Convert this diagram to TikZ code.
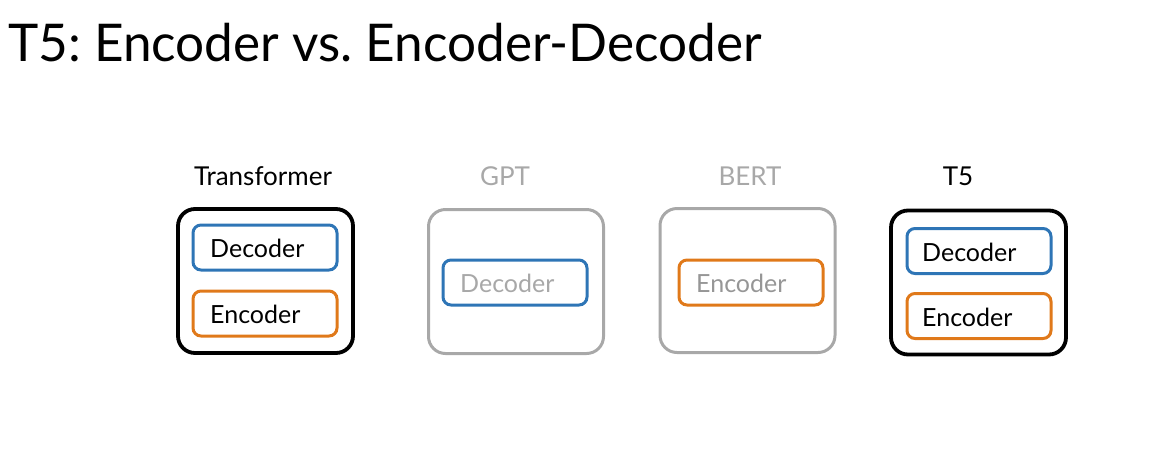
\documentclass[tikz,border=0pt]{standalone}
\usepackage{fontspec}
\setmainfont{Lato}
\frenchspacing
\begin{document}
\definecolor{encblue}{RGB}{46,117,182}
\definecolor{decorange}{RGB}{224,121,26}
\definecolor{dimgrey}{RGB}{168,168,168}
\definecolor{dimtext}{RGB}{150,150,150}
\begin{tikzpicture}[x=1pt,y=-1pt,
  outerbox/.style={draw, line width=3.8pt, rounded corners=17pt, minimum width=175pt, minimum height=144pt, inner sep=0pt},
  dimbox/.style={outerbox, draw=dimgrey, line width=3pt},
  partbox/.style={draw, line width=3pt, rounded corners=8pt, minimum width=144pt, minimum height=45pt, inner sep=0pt},
  parttext/.style={font=\fontsize{25}{30}\selectfont, anchor=base west, inner sep=0pt},
  modellabel/.style={font=\fontsize{26}{30}\selectfont, anchor=base, inner sep=0pt}]
\useasboundingbox (0,0) rectangle (1175,448);

% title
\node[font=\fontsize{52}{60}\selectfont, anchor=base west, inner sep=0pt] (title) at (8,61) {\scalebox{0.986}[1]{T5: Encoder vs. Encoder-Decoder}};

% Transformer: full encoder-decoder stack
\node[modellabel] (trlab) at (263,185) {Transformer};
\node[outerbox] (tr) at (265.5,281) {};
\node[partbox, draw=encblue] (trdec) at (265,247.5) {};
\node[parttext] (trdect) at (210,257) {Decoder};
\node[partbox, draw=decorange] (trenc) at (265,313.5) {};
\node[parttext] (trenct) at (210,323) {Encoder};

% GPT: decoder only
\node[modellabel, text=dimgrey] (gptlab) at (505,185) {GPT};
\node[dimbox] (gpt) at (516,281.5) {};
\node[partbox, draw=encblue] (gptdec) at (515,282.5) {};
\node[parttext, text=dimgrey] (gptdect) at (460,292) {Decoder};

% BERT: encoder only
\node[modellabel, text=dimgrey] (bertlab) at (750,185) {BERT};
\node[dimbox] (bert) at (747.5,280.5) {};
\node[partbox, draw=decorange] (bertenc) at (751,282.5) {};
\node[parttext, text=dimtext] (bertenct) at (696,292) {Encoder};

% T5: encoder-decoder
\node[modellabel] (t5lab) at (958,185) {T5};
\node[outerbox] (t5) at (978.5,282.5) {};
\node[partbox, draw=encblue] (t5dec) at (979,251) {};
\node[parttext] (t5dect) at (922,261) {Decoder};
\node[partbox, draw=decorange] (t5enc) at (979,316) {};
\node[parttext] (t5enct) at (922,326) {Encoder};
\end{tikzpicture}
\end{document}
